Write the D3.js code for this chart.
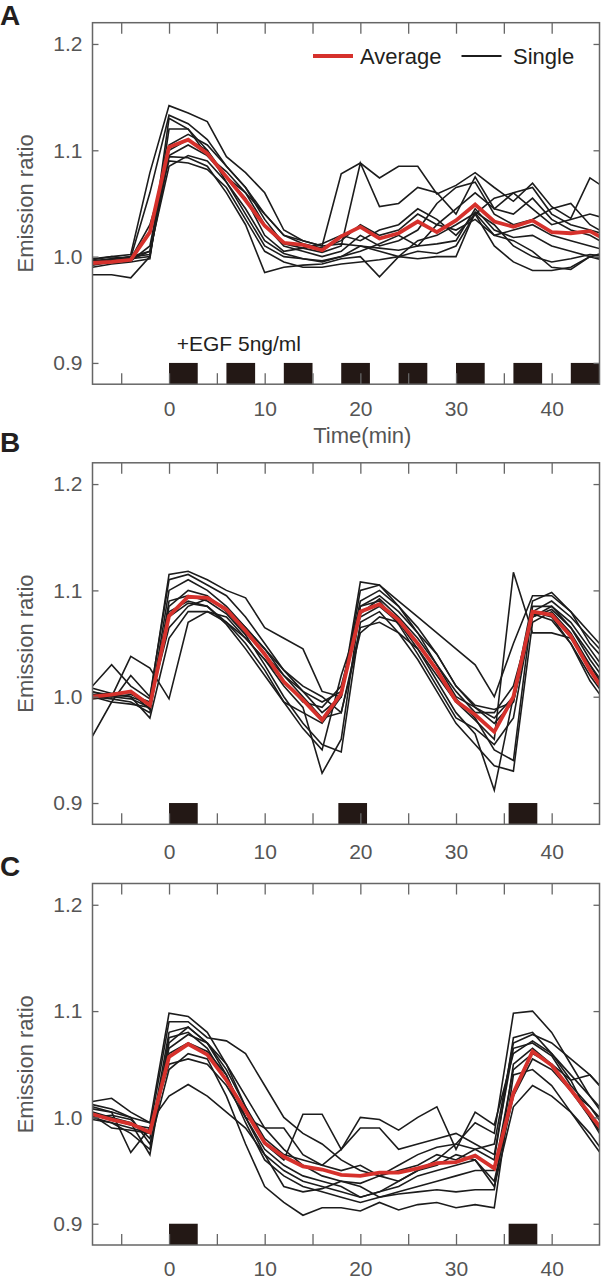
<!DOCTYPE html>
<html><head><meta charset="utf-8">
<script src="https://cdn.jsdelivr.net/npm/d3@7"></script>
<style>body{margin:0;background:#fff} svg{display:block}</style>
</head><body>
<svg id="c" width="602" height="1282"></svg>
<script>
// ---------- DATA ----------
const times = [-8,-6,-4,-2,0,2,4,6,8,10,12,14,16,18,20,22,24,26,28,30,32,34,36,38,40,42,44,46];

const avgA = [0.994,0.995,0.997,1.023,1.103,1.110,1.097,1.075,1.053,1.029,1.013,1.011,1.006,1.019,1.028,1.017,1.022,1.033,1.023,1.034,1.049,1.033,1.028,1.034,1.023,1.022,1.024,1.014];
const singlesA = [
  [0.998,1.000,1.002,1.079,1.142,1.135,1.127,1.094,1.079,1.060,1.025,1.015,1.010,1.078,1.088,1.074,1.085,1.085,1.059,1.067,1.079,1.065,1.052,1.069,1.047,1.036,1.074,1.062],
  [0.996,0.998,0.999,1.060,1.133,1.125,1.110,1.085,1.065,1.035,1.012,1.008,1.004,1.010,1.088,1.047,1.050,1.065,1.060,1.040,1.075,1.045,1.060,1.065,1.040,1.030,1.025,1.020],
  [0.983,0.983,0.980,1.000,1.130,1.120,1.100,1.070,1.040,1.010,1.000,0.998,0.995,1.000,1.010,1.005,1.000,1.015,1.020,1.030,1.041,1.020,1.015,1.005,0.990,0.988,1.000,1.005],
  [0.995,0.997,1.000,1.002,1.094,1.093,1.085,1.060,1.030,0.985,0.990,0.992,0.993,0.998,1.000,0.981,1.000,1.005,1.003,1.010,1.040,1.010,0.995,0.987,0.987,0.990,1.000,0.998],
  [0.997,1.000,0.998,1.030,1.090,1.088,1.082,1.065,1.035,1.005,0.995,0.990,0.990,0.993,0.995,0.997,1.000,0.998,1.000,1.000,1.042,1.030,1.010,1.000,0.995,0.998,1.002,1.000],
  [0.992,0.995,0.996,1.010,1.100,1.110,1.100,1.075,1.055,1.020,1.005,1.008,1.012,1.020,1.015,1.025,1.030,1.045,1.035,1.020,1.040,1.055,1.060,1.045,1.030,1.035,1.040,1.035],
  [0.990,0.993,0.995,0.998,1.120,1.120,1.095,1.080,1.060,1.030,1.010,1.005,1.000,1.005,1.020,1.010,1.015,1.025,1.050,1.065,1.070,1.040,1.030,1.035,1.045,1.050,1.030,1.020],
  [0.995,0.998,1.000,1.005,1.085,1.095,1.090,1.070,1.045,1.015,1.003,0.998,0.996,1.000,1.005,1.012,1.020,1.010,1.030,1.025,1.035,1.020,1.025,1.030,1.020,1.015,1.010,1.005],
  [0.993,0.996,0.998,1.000,1.105,1.115,1.105,1.085,1.065,1.040,1.020,1.012,1.008,1.015,1.030,1.020,1.025,1.040,1.030,1.045,1.060,1.045,1.040,1.055,1.035,1.025,1.020,1.010],
  [0.994,0.995,0.997,1.005,1.095,1.105,1.095,1.075,1.060,1.040,1.020,1.015,1.010,1.012,1.010,1.008,1.006,1.010,1.012,1.015,1.045,1.025,1.018,1.020,1.010,1.005,1.000,0.995]
];

const avgB = [1.000,1.002,1.005,0.992,1.076,1.094,1.093,1.082,1.062,1.040,1.014,0.997,0.978,1.003,1.080,1.087,1.072,1.050,1.025,0.996,0.983,0.967,1.000,1.080,1.077,1.057,1.025,0.998];
const singlesB = [
  [0.963,0.995,1.020,1.000,1.110,1.115,1.105,1.095,1.075,1.050,1.025,1.005,0.985,1.000,1.108,1.105,1.085,1.060,1.030,1.000,0.990,0.980,1.000,1.090,1.098,1.080,1.050,1.030],
  [1.010,1.030,1.010,0.998,1.115,1.118,1.110,1.100,1.093,1.065,1.055,1.045,1.005,1.000,1.100,1.105,1.090,1.075,1.060,1.045,1.030,1.000,1.050,1.095,1.095,1.080,1.060,1.040],
  [1.005,1.000,1.038,1.027,0.998,1.070,1.080,1.075,1.055,1.035,1.010,0.990,0.928,0.960,1.085,1.095,1.080,1.060,1.040,1.010,0.990,0.975,0.995,1.075,1.085,1.070,1.045,1.020],
  [1.000,0.998,0.995,0.985,1.090,1.095,1.090,1.078,1.058,1.030,1.000,0.975,0.955,0.948,1.070,1.080,1.060,1.035,1.005,0.975,0.955,0.935,0.930,1.070,1.080,1.060,1.030,1.000],
  [1.002,1.000,0.998,0.990,1.080,1.090,1.085,1.070,1.050,1.025,0.995,0.970,0.950,1.020,1.075,1.085,1.070,1.045,1.015,0.985,0.965,0.912,1.000,1.078,1.072,1.050,1.020,0.995],
  [1.008,1.003,1.000,0.993,1.075,1.088,1.085,1.068,1.045,1.020,0.995,0.985,0.975,1.000,1.085,1.090,1.068,1.040,1.010,0.980,0.970,0.955,0.980,1.080,1.075,1.050,1.015,0.990],
  [0.998,1.000,1.002,0.995,1.065,1.085,1.092,1.083,1.065,1.045,1.020,1.000,0.980,0.985,1.065,1.070,1.060,1.045,1.020,0.995,0.978,0.960,1.117,1.060,1.060,1.055,1.030,1.005],
  [1.004,1.002,1.000,0.980,1.055,1.080,1.080,1.070,1.055,1.035,1.015,0.995,0.990,1.010,1.078,1.092,1.075,1.055,1.030,1.005,0.985,0.985,1.010,1.075,1.082,1.065,1.035,1.010],
  [1.001,1.003,1.004,0.988,1.085,1.100,1.095,1.080,1.060,1.040,1.020,1.005,0.995,1.005,1.090,1.100,1.085,1.065,1.040,1.010,0.992,0.988,0.995,1.080,1.090,1.075,1.055,1.035],
  [1.000,0.995,0.993,0.990,1.100,1.110,1.100,1.085,1.065,1.045,1.025,1.010,1.000,0.985,1.060,1.075,1.070,1.050,1.025,0.998,0.980,0.950,0.940,1.085,1.085,1.065,1.040,1.015]
];

const avgC = [1.003,0.998,0.994,0.986,1.057,1.069,1.059,1.035,1.006,0.976,0.963,0.954,0.951,0.946,0.945,0.948,0.948,0.952,0.957,0.958,0.964,0.952,1.023,1.062,1.049,1.026,1.003,0.980];
const singlesC = [
  [1.015,1.018,1.005,0.995,1.098,1.095,1.080,1.050,1.010,0.980,0.965,0.960,0.955,0.950,0.955,0.945,0.940,0.950,0.960,0.975,0.995,0.985,1.098,1.100,1.080,1.050,1.020,0.995],
  [1.010,1.005,0.967,0.990,1.090,1.090,1.075,1.072,1.060,1.030,1.000,0.985,0.975,0.960,0.950,0.945,0.950,0.955,0.965,0.960,0.970,0.975,1.070,1.078,1.070,1.055,1.040,1.020],
  [1.005,1.000,0.995,0.965,1.070,1.085,1.070,1.045,1.010,0.975,0.960,1.003,1.003,0.970,1.000,0.998,0.988,1.000,1.010,0.970,1.005,0.993,1.060,1.072,1.060,1.035,1.000,0.970],
  [1.000,0.995,0.990,0.985,1.060,1.070,1.062,1.040,1.000,0.965,0.935,0.930,0.933,0.940,0.935,0.925,0.928,0.930,0.932,0.930,0.932,0.932,1.050,1.065,1.050,1.025,1.000,0.975],
  [1.012,1.008,1.000,0.975,1.045,1.060,1.055,1.020,0.975,0.935,0.920,0.908,0.915,0.915,0.912,0.920,0.913,0.918,0.920,0.915,0.918,0.915,1.040,1.045,1.030,1.005,0.980,0.955],
  [1.003,0.998,0.993,0.990,1.050,1.055,1.050,1.030,1.000,0.970,0.955,0.945,0.940,0.935,0.925,0.930,0.940,0.950,0.955,0.965,0.960,0.940,1.020,1.055,1.045,1.025,1.010,0.990],
  [1.008,1.005,1.000,0.995,1.020,1.031,1.020,1.005,0.990,0.965,0.950,0.940,0.935,0.930,0.925,0.930,0.935,0.945,0.950,0.955,0.960,0.935,1.010,1.030,1.020,1.005,0.985,0.960],
  [1.000,1.002,0.998,0.980,1.080,1.085,1.070,1.040,1.000,0.990,0.990,0.965,0.955,0.970,0.990,0.990,0.970,0.975,0.980,0.985,0.975,0.965,1.065,1.070,1.058,1.030,1.010,0.985],
  [1.002,0.990,0.988,0.985,1.065,1.078,1.070,1.050,1.020,0.990,0.970,0.955,0.945,0.940,0.938,0.945,0.955,0.965,0.972,0.975,0.970,0.960,1.075,1.080,1.060,1.040,1.020,1.000],
  [0.998,0.995,0.985,0.970,1.075,1.080,1.065,1.035,0.995,0.960,0.945,0.935,0.930,0.925,0.920,0.925,0.930,0.935,0.940,0.945,0.950,0.950,1.045,1.060,1.050,1.035,1.040,1.020]
];

const barStartsA = [0,6,12,18,24,30,36,42];
const barStartsB = [0,17.7,35.5];
const barStartsC = [0,35.5];
const barLength = 3;

const xTickValues = [-5,0,5,10,15,20,25,30,35,40];
const xTickLabels = [0,10,20,30,40];
const yTickValues = [0.9,1.0,1.1,1.2];
const xDomain = [-8,45];
const yDomain = [0.88,1.22];

const panelLetters = ["A","B","C"];
const legendLabels = ["Average","Single"];
const stimLabel = "+EGF 5ng/ml";
const xTitle = "Time(min)";
const yTitle = "Emission ratio";

// ---------- DRAW ----------
const FONT = "'Liberation Sans', Arial, sans-serif";
const svg = d3.select('#c');
const x = d3.scaleLinear().domain(xDomain).range([92.5, 599.5]);
const H = 361.5;

const panels = [
  {top: 22.7, avg: avgA, singles: singlesA, bars: barStartsA, letterY: 25, labelPad: 16.8, letter: panelLetters[0]},
  {top: 462.8, avg: avgB, singles: singlesB, bars: barStartsB, letterY: 452, labelPad: 19.5, letter: panelLetters[1]},
  {top: 883.5, avg: avgC, singles: singlesC, bars: barStartsC, letterY: 876, labelPad: 16.5, letter: panelLetters[2]}
];

panels.forEach((p, i) => {
  const y = d3.scaleLinear().domain(yDomain).range([p.top + H, p.top]);
  const g = svg.append('g');
  const clipId = 'clip' + i;
  svg.append('defs').append('clipPath').attr('id', clipId)
    .append('rect').attr('x', x(xDomain[0])).attr('y', p.top)
    .attr('width', x(xDomain[1]) - x(xDomain[0])).attr('height', H);

  // stimulation bars
  g.selectAll('rect.bar').data(p.bars).enter().append('rect')
    .attr('class','bar')
    .attr('x', d => x(d)).attr('width', d => x(d + barLength) - x(d))
    .attr('y', y(0.9)).attr('height', y(yDomain[0]) - y(0.9))
    .attr('fill', '#231815');

  const line = d3.line().x((d, j) => x(times[j])).y(d => y(d));
  const lg = g.append('g').attr('clip-path', `url(#${clipId})`);
  lg.selectAll('path.single').data(p.singles).enter().append('path')
    .attr('class','single').attr('d', line)
    .attr('fill','none').attr('stroke','#1c1c1c').attr('stroke-width',1.6)
    .attr('stroke-linejoin','miter');
  lg.append('path').datum(p.avg).attr('d', line)
    .attr('fill','none').attr('stroke','#d6312c').attr('stroke-width',3.8)
    .attr('stroke-linejoin','miter');

  // axes
  const axB = d3.axisBottom(x).tickValues(xTickValues).tickSize(-11).tickPadding(p.labelPad)
    .tickFormat(d => xTickLabels.includes(d) ? d : '');
  const axT = d3.axisTop(x).tickValues(xTickValues).tickSize(-11).tickFormat('');
  const axL = d3.axisLeft(y).tickValues(yTickValues).tickSize(-6).tickPadding(10).tickFormat(d3.format('.1f'));
  const axR = d3.axisRight(y).tickValues(yTickValues).tickSize(-6).tickFormat('');
  const style = sel => {
    sel.select('.domain').remove();
    sel.selectAll('line').attr('stroke','#666').attr('stroke-width',1.3);
    sel.selectAll('text').attr('fill','#555').style('font-size','21px').style('font-family',FONT);
  };
  g.append('g').attr('transform',`translate(0,${p.top + H})`).call(axB).call(style);
  g.append('g').attr('transform',`translate(0,${p.top})`).call(axT).call(style);
  g.append('g').attr('transform',`translate(${x(xDomain[0])},0)`).call(axL).call(style);
  g.append('g').attr('transform',`translate(${x(xDomain[1])},0)`).call(axR).call(style);

  // frame
  g.append('rect').attr('x', x(xDomain[0])).attr('y', p.top)
    .attr('width', x(xDomain[1]) - x(xDomain[0])).attr('height', H)
    .attr('fill','none').attr('stroke','#666').attr('stroke-width',1.5);

  // y title
  g.append('text').attr('transform',`translate(33,${p.top + H/2}) rotate(-90)`)
    .attr('text-anchor','middle').attr('fill','#555')
    .style('font-size','22px').style('font-family',FONT).text(yTitle);

  // panel letter
  svg.append('text').attr('x', 0).attr('y', p.letterY)
    .attr('fill','#231f20').style('font-size','28px').style('font-weight','bold')
    .style('font-family',FONT).text(p.letter);

  if (i === 0) {
    // legend
    const lgd = svg.append('g');
    lgd.append('line').attr('x1',313).attr('x2',353).attr('y1',56).attr('y2',56)
      .attr('stroke','#d6312c').attr('stroke-width',3.8);
    lgd.append('text').attr('x',360).attr('y',63.5).attr('fill','#231f20')
      .style('font-size','22px').style('font-family',FONT).text(legendLabels[0]);
    lgd.append('line').attr('x1',461.5).attr('x2',501.5).attr('y1',56).attr('y2',56)
      .attr('stroke','#1c1c1c').attr('stroke-width',1.8);
    lgd.append('text').attr('x',513).attr('y',63.5).attr('fill','#231f20')
      .style('font-size','22px').style('font-family',FONT).text(legendLabels[1]);
    // stimulus label
    svg.append('text').attr('x', 176.7).attr('y', 350.5).attr('fill','#231f20')
      .style('font-size','21px').style('font-family',FONT).text(stimLabel);
    // x title
    svg.append('text').attr('x', x(20) + 2).attr('y', 442.5).attr('text-anchor','middle')
      .attr('fill','#555').style('font-size','22px').style('font-family',FONT).text(xTitle);
  }
});
</script>
</body></html>
